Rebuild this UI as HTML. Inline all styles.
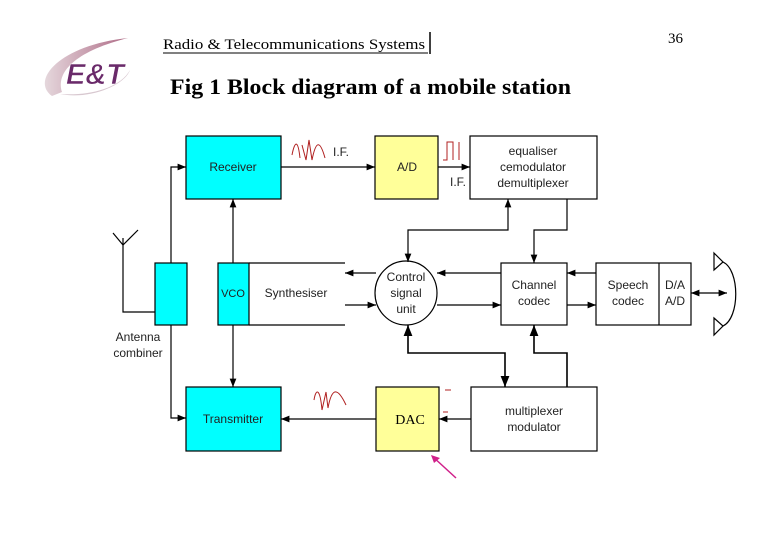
<!DOCTYPE html>
<html><head><meta charset="utf-8"><style>
html,body{margin:0;padding:0;background:#fff;}
svg{display:block;}
.s{font-family:"Liberation Sans",sans-serif;font-size:12px;fill:#222;}
</style></head><body>
<svg width="780" height="540" viewBox="0 0 780 540" xmlns="http://www.w3.org/2000/svg">
<defs>
<marker id="a" viewBox="0 0 10 10" refX="10" refY="5" markerWidth="7" markerHeight="7" orient="auto-start-reverse"><path d="M0,1 L10,5 L0,9 z" fill="#000"/></marker>
<linearGradient id="g" x1="0" x2="1"><stop offset="0" stop-color="#e0d0d6"/><stop offset="1" stop-color="#a05070"/></linearGradient>
</defs>
<!-- logo -->
<path d="M52,96 C30,80 60,45 128,38 C80,50 55,70 62,92 Z" fill="url(#g)" opacity="0.85"/>
<path d="M60,94 C90,100 125,85 130,70 C120,88 90,96 60,94 Z" fill="#d8c8d0"/>
<text x="66" y="84" font-family="Liberation Sans,sans-serif" font-style="italic" font-weight="bold" font-size="29" fill="#6a2a6a" stroke="#fff" stroke-width="0.6">E&amp;T</text>
<text x="163" y="49" font-family="Liberation Serif,serif" font-size="15" textLength="262" lengthAdjust="spacingAndGlyphs">Radio &amp; Telecommunications Systems</text>
<line x1="163" y1="53" x2="428" y2="53" stroke="#000"/>
<line x1="430" y1="32" x2="430" y2="54" stroke="#000" stroke-width="1.5"/>
<text x="668" y="43" font-family="Liberation Serif,serif" font-size="15">36</text>
<text x="170" y="94" font-family="Liberation Serif,serif" font-weight="bold" font-size="22" textLength="401" lengthAdjust="spacingAndGlyphs">Fig 1 Block diagram of a mobile station</text>

<g stroke="#000" stroke-width="1.2" fill="none">
<rect x="186" y="136" width="95" height="63" fill="#00ffff"/>
<rect x="375" y="136" width="63" height="63" fill="#ffff99"/>
<rect x="470" y="136" width="127" height="63" fill="#fff"/>
<rect x="155" y="263" width="32" height="62" fill="#00ffff"/>
<rect x="218" y="263" width="31" height="62" fill="#00ffff"/>
<polyline points="249,263 345,263"/><polyline points="249,325 345,325"/>
<ellipse cx="406" cy="293" rx="31" ry="32" fill="#fff"/>
<rect x="501" y="263" width="66" height="62" fill="#fff"/>
<rect x="596" y="263" width="95" height="62" fill="#fff"/>
<line x1="659" y1="263" x2="659" y2="325"/>
<rect x="186" y="387" width="95" height="64" fill="#00ffff"/>
<rect x="376" y="387" width="63" height="64" fill="#ffff99"/>
<rect x="471" y="387" width="126" height="64" fill="#fff"/>
<polyline points="113,233 123,245 138,230"/>
<polyline points="123,238 123,312 155,312"/>
<polyline points="171,263 171,167 186,167" marker-end="url(#a)"/>
<polyline points="171,325 171,418 186,418" marker-end="url(#a)"/>
<line x1="233" y1="263" x2="233" y2="199" marker-end="url(#a)"/>
<line x1="233" y1="325" x2="233" y2="387" marker-end="url(#a)"/>
<line x1="281" y1="167" x2="375" y2="167" marker-end="url(#a)"/>
<line x1="438" y1="167" x2="470" y2="167" marker-end="url(#a)"/>
<polyline points="408,262 408,230 508,230 508,199" marker-start="url(#a)" marker-end="url(#a)"/>
<polyline points="567,199 567,230 534,230 534,263" marker-end="url(#a)"/>
<line x1="376" y1="273" x2="345" y2="273" marker-end="url(#a)"/>
<line x1="345" y1="305" x2="376" y2="305" marker-end="url(#a)"/>
<line x1="501" y1="273" x2="437" y2="273" marker-end="url(#a)"/>
<line x1="437" y1="305" x2="501" y2="305" marker-end="url(#a)"/>
<line x1="596" y1="273" x2="567" y2="273" marker-end="url(#a)"/>
<line x1="567" y1="305" x2="596" y2="305" marker-end="url(#a)"/>
<line x1="691" y1="293" x2="727" y2="293" marker-start="url(#a)" marker-end="url(#a)"/>
<polyline points="408,325 408,353 505,353 505,387" marker-start="url(#a)" marker-end="url(#a)" stroke-width="1.6"/>
<polyline points="567,387 567,353 534,353 534,325" marker-end="url(#a)" stroke-width="1.6"/>
<line x1="471" y1="419" x2="439" y2="419" marker-end="url(#a)"/>
<line x1="376" y1="419" x2="281" y2="419" marker-end="url(#a)"/>
<path d="M714,253 L723,262 L714,270 Z M714,318 L723,326 L714,335 Z"/>
<path d="M723,262 C740,270 740,318 723,326"/>
</g>
<g stroke="#b02020" fill="none" stroke-width="1">
<path d="M292,155 C295,140 298,140 300,158 M302,145 L306,160 L309,140 L312,160 C316,140 320,140 325,158"/>
<path d="M443,160 L447,160 L447,142 L453,142 L453,160 M459,142 L459,160"/>
<path d="M314,400 C316,388 320,388 322,410 L326,392 L328,408 C332,386 338,388 346,405"/>
</g>
<line x1="445" y1="390" x2="451" y2="390" stroke="#b02020"/>
<line x1="443" y1="412" x2="448" y2="412" stroke="#b02020"/>
<line x1="456" y1="478" x2="432" y2="456" stroke="#d0208a" stroke-width="1.5"/>
<path d="M431,455 L440,458 L434,463 Z" fill="#d0208a"/>
<g class="s" text-anchor="middle">
<text x="233" y="171">Receiver</text>
<text x="407" y="171">A/D</text>
<text x="533" y="155">equaliser</text>
<text x="533" y="171">cemodulator</text>
<text x="533" y="187">demultiplexer</text>
<text x="233" y="297" font-size="11">VCO</text>
<text x="296" y="297">Synthesiser</text>
<text x="406" y="281">Control</text>
<text x="406" y="297">signal</text>
<text x="406" y="313">unit</text>
<text x="534" y="289">Channel</text>
<text x="534" y="305">codec</text>
<text x="628" y="289">Speech</text>
<text x="628" y="305">codec</text>
<text x="675" y="289">D/A</text>
<text x="675" y="305">A/D</text>
<text x="138" y="341">Antenna</text>
<text x="138" y="357">combiner</text>
<text x="233" y="423">Transmitter</text>
<text x="534" y="415">multiplexer</text>
<text x="534" y="431">modulator</text>
<text x="341" y="156">I.F.</text>
<text x="458" y="186">I.F.</text>
</g>
<text x="410" y="424" text-anchor="middle" font-family="Liberation Serif,serif" font-size="14">DAC</text>
</svg>
</body></html>
